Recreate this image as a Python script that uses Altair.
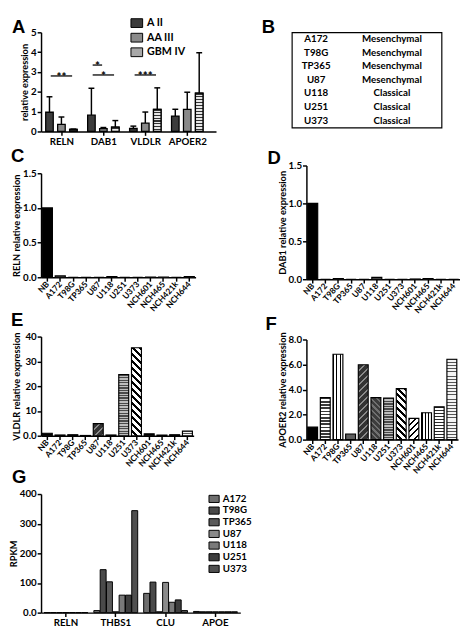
import json
import math
import altair as alt
import pandas as pd

FONT = "Lato"
LETTER_FONT = "Liberation Sans"

# ---------------- data ----------------
# Panel A
a_genes = ["RELN", "DAB1", "VLDLR", "APOER2"]
a_grades = ["A II", "AA III", "GBM IV"]
a_mean_aii = [0.97, 0.82, 0.15, 0.78]
a_mean_aaiii = [0.36, 0.14, 0.42, 1.12]
a_mean_gbmiv = [0.10, 0.22, 1.12, 1.93]
a_top_aii = [1.75, 2.18, 0.27, 1.12]
a_top_aaiii = [0.73, 0.20, 0.98, 1.98]
a_top_gbmiv = [0.12, 0.55, 2.20, 3.97]
a_sig_gene = ["RELN", "DAB1", "DAB1", "VLDLR"]
a_sig_from = ["A II", "A II", "A II", "A II"]
a_sig_to = ["GBM IV", "AA III", "GBM IV", "GBM IV"]
a_sig_level = [2.8, 3.35, 2.85, 2.85]
a_sig_text = ["**", "*", "*", "***"]

# Panel B
b_lines = ["A172", "T98G", "TP365", "U87", "U118", "U251", "U373"]
b_subtypes = ["Mesenchymal", "Mesenchymal", "Mesenchymal", "Mesenchymal",
              "Classical", "Classical", "Classical"]

# Panels C-F
cell_lines = ["NB", "A172", "T98G", "TP365", "U87", "U118", "U251", "U373",
              "NCH601", "NCH465", "NCH421k", "NCH644"]
reln_expr = [1.0, 0.02, 0.0, 0.0, 0.0, 0.01, 0.0, 0.0, 0.003, 0.003, 0.0, 0.01]
dab1_expr = [1.0, 0.0, 0.01, 0.0, 0.0, 0.025, 0.0, 0.0, 0.003, 0.01, 0.0, 0.0]
vldlr_expr = [1.0, 0.3, 0.4, 0.1, 4.9, 0.3, 24.7, 35.5, 0.8, 0.3, 0.4, 1.9]
apoer2_expr = [1.0, 3.35, 6.82, 0.45, 5.98, 3.35, 3.32, 4.08, 1.7, 2.15, 2.62, 6.42]

# Panel G
g_genes = ["RELN", "THBS1", "CLU", "APOE"]
g_lines = ["A172", "T98G", "TP365", "U87", "U118", "U251", "U373"]
g_a172 = [0.3, 7, 65, 4]
g_t98g = [0.3, 145, 103, 3]
g_tp365 = [0.2, 104, 3, 3]
g_u87 = [0.2, 3, 102, 3]
g_u118 = [0.3, 59, 35, 3]
g_u251 = [0.2, 59, 43, 3]
g_u373 = [0.3, 344, 7, 3]

# ---------------- styles ----------------
a_colors = ["#3c3c3c", "#8a8a8a", "#a8a8a8"]
palette12 = ["#000000", "#9a9a9a", "#e2e2e2", "#6a6a6a", "#4d4d4d", "#5c5c5c",
             "#8c8c8c", "#c4c4c4", "#cfcfcf", "#d9d9d9", "#a3a3a3", "#ebebeb"]
g_colors = ["#6e6e6e", "#4a4a4a", "#5a5a5a", "#8a8a8a", "#7a7a7a", "#3e3e3e", "#505050"]
# hatch styles per cell line: (kind, dark, light, period/n, duty[, direction])
line_patterns = {
    "NB": ("solid", "#000000"),
    "A172": ("h", "#3a3a3a", "#ffffff", 3.2, 0.5),
    "T98G": ("v", "#000000", "#ffffff", 3, 0.3),
    "TP365": ("solid", "#5e5e5e"),
    "U87": ("d", "#333333", "#8a8a8a", 5.0, 0.7, "/"),
    "U118": ("d", "#3c3c3c", "#707070", 4.0, 0.6, "\\"),
    "U251": ("h", "#4a4a4a", "#bdbdbd", 2.6, 0.5),
    "U373": ("d", "#000000", "#ffffff", 5.0, 0.45, "\\"),
    "NCH601": ("d", "#000000", "#ffffff", 4.5, 0.3, "/"),
    "NCH465": ("v", "#000000", "#ffffff", 3, 0.3),
    "NCH421k": ("h", "#2a2a2a", "#ffffff", 3.2, 0.5),
    "NCH644": ("h", "#555555", "#f4f4f4", 3.0, 0.3),
}
gbm_pattern = ("h", "#333333", "#e8e8e8", 3.0, 0.45)


def stripes(dark, light, n, duty, x1, y1, x2, y2):
    stops = []
    for i in range(n):
        a = i / n
        b = (i + duty) / n
        c = (i + 1) / n
        stops += [dict(offset=a, color=dark), dict(offset=b, color=dark),
                  dict(offset=b, color=light), dict(offset=c, color=light)]
    return dict(gradient="linear", x1=x1, y1=y1, x2=x2, y2=y2, stops=stops)


def make_fill(p, h_px, w_px):
    if p[0] == "solid" or h_px < 3:
        return p[1]
    kind, dark, light = p[0], p[1], p[2]
    if kind == "h":
        n = max(1, round(h_px / p[3]))
        return stripes(dark, light, n, p[4], 0, 0, 0, 1)
    if kind == "v":
        return stripes(dark, light, p[3], p[4], 0, 0, 1, 0)
    r = h_px / w_px
    a = (1 + r) / (1 + r * r)
    b = a * r
    n = max(1, round((w_px + h_px) / math.sqrt(2) / p[3]))
    if p[5] == "/":
        return stripes(dark, light, n, p[4], 0, 0, a, b)
    return stripes(dark, light, n, p[4], 1, 0, 1 - a, b)


def letter_layer(letter, dx, dy):
    return alt.Chart(pd.DataFrame({"t": [letter]})).mark_text(
        font=LETTER_FONT, fontSize=19, fontWeight="bold", align="left",
        baseline="top", color="black"
    ).encode(text="t:N", x=alt.value(dx), y=alt.value(dy))


def spacer(h):
    return alt.Chart(pd.DataFrame({"v": [0]})).mark_point(opacity=0).encode(
        x=alt.value(0), y=alt.value(0)).properties(width=1, height=h)


# ---------------- Panel A ----------------
A_W, A_H, A_MAX = 180, 102, 5
a_means = [a_mean_aii, a_mean_aaiii, a_mean_gbmiv]
a_tops = [a_top_aii, a_top_aaiii, a_top_gbmiv]
rows = []
for gi, gene in enumerate(a_genes):
    for ki, grade in enumerate(a_grades):
        rows.append(dict(gene=gene, grade=grade, gi=gi, ki=ki,
                         mean=a_means[ki][gi], top=a_tops[ki][gi]))
a_df = pd.DataFrame(rows)
sig_df = pd.DataFrame({
    "gi": [a_genes.index(g) for g in a_sig_gene],
    "k1": [a_grades.index(g) for g in a_sig_from],
    "k2": [a_grades.index(g) for g in a_sig_to],
    "level": a_sig_level,
    "txt": a_sig_text,
})

gene_expr = json.dumps(a_genes)
ax_a = alt.Axis(values=[0, 1, 2, 3], labelExpr=f"{gene_expr}[datum.value]",
                labelAngle=0)
A_DOM = [-0.37, 3.57]
sc_a = alt.Scale(domain=A_DOM, nice=False, zero=False)
y_a = dict(title="relative expression",
           scale=alt.Scale(domain=[0, A_MAX], nice=False),
           axis=alt.Axis(values=[0, 1, 2, 3, 4, 5], format="d"))

POS = "datum.gi + (datum.ki - 1) * 0.285"
BW = 0.09
err = alt.Chart(a_df).transform_calculate(pos=POS).mark_rule(
    strokeWidth=1.5, color="black").encode(
    x=alt.X("pos:Q", scale=sc_a, axis=ax_a, title=None),
    y=alt.Y("mean:Q", **y_a), y2="top:Q")
caps = alt.Chart(a_df).transform_calculate(pos=POS).transform_calculate(
    c1="datum.pos - 0.07", c2="datum.pos + 0.07").mark_rule(
    strokeWidth=1.5, color="black").encode(
    x=alt.X("c1:Q", scale=sc_a, axis=ax_a, title=None), x2="c2:Q",
    y=alt.Y("top:Q", **y_a))


def a_bar_base(df):
    return alt.Chart(df).transform_calculate(pos=POS).transform_calculate(
        b1=f"datum.pos - {BW}", b2=f"datum.pos + {BW}")


bars_a = a_bar_base(a_df).mark_bar(
    orient="vertical", stroke="black", strokeWidth=1.3).encode(
    x=alt.X("b1:Q", scale=sc_a, axis=ax_a, title=None), x2="b2:Q",
    y=alt.Y("mean:Q", **y_a), y2=alt.datum(0),
    fill=alt.Fill("grade:N", scale=alt.Scale(domain=a_grades, range=a_colors),
                  legend=alt.Legend(orient="none", legendX=92, legendY=-16,
                                    title=None,
                                    symbolType="M-1,-0.75H1V0.75H-1Z",
                                    symbolSize=144, symbolStrokeColor="black",
                                    symbolStrokeWidth=1, labelFontSize=11,
                                    rowPadding=2, labelOffset=4)))
# striped overlay for the GBM IV bars
a_px_per_unit_x = A_W / (A_DOM[1] - A_DOM[0])
gbm_layers = []
for gi, v in enumerate(a_mean_gbmiv):
    fill = make_fill(gbm_pattern, v / A_MAX * A_H, 2 * BW * a_px_per_unit_x)
    sub = a_df[(a_df.gi == gi) & (a_df.ki == 2)]
    gbm_layers.append(a_bar_base(sub).mark_bar(
        orient="vertical", stroke="black", strokeWidth=1.3, fill=fill).encode(
        x=alt.X("b1:Q", scale=sc_a, axis=ax_a, title=None), x2="b2:Q",
        y=alt.Y("mean:Q", **y_a), y2=alt.datum(0)))

sig_rule = alt.Chart(sig_df).transform_calculate(
    s1="datum.gi + (datum.k1 - 1) * 0.285 + 0.03",
    s2="datum.gi + (datum.k2 - 1) * 0.285 - 0.03").mark_rule(
    strokeWidth=1.3, color="black").encode(
    x=alt.X("s1:Q", scale=sc_a, axis=ax_a, title=None), x2="s2:Q",
    y=alt.Y("level:Q", **y_a))
sig_txt = alt.Chart(sig_df).transform_calculate(
    sm="datum.gi + (datum.k1 + datum.k2 - 2) * 0.1425").mark_text(
    font=FONT, fontWeight="bold", fontSize=12, baseline="alphabetic", dy=5,
    color="black").encode(
    x=alt.X("sm:Q", scale=sc_a, axis=ax_a, title=None),
    y=alt.Y("level:Q", **y_a), text="txt:N")

# the "B" panel letter sits in the same row, drawn with panel A
chart_a = alt.layer(err, caps, bars_a, *gbm_layers, sig_rule, sig_txt,
                    letter_layer("A", -30, -14),
                    letter_layer("B", 227, -14)).properties(width=A_W, height=A_H)

# ---------------- Panel B ----------------
b_rows = []
for ln, st in zip(b_lines, b_subtypes):
    b_rows.append(dict(line=ln, col="name", text=ln))
    b_rows.append(dict(line=ln, col="type", text=st))
b_df = pd.DataFrame(b_rows)
chart_b = alt.Chart(b_df).mark_text(font=FONT, fontWeight="bold", fontSize=10,
                                    color="black").encode(
    x=alt.X("col:N", scale=alt.Scale(type="point", domain=["name", "type"],
                                     range=[25, 103], padding=0), axis=None),
    y=alt.Y("line:N", sort=b_lines, axis=None),
    text="text:N").properties(
    width=154, height=98,
    view=alt.ViewBackground(stroke="black", strokeWidth=1.2))


# ---------------- Panels C-F ----------------
PI, PO = 0.22, 0.1


def expr_panel(values, ytitle, ymax, yticks, width, height, letter, lx, ly,
               fmt=None, expr=None, patterned=False):
    df = pd.DataFrame({"line": cell_lines, "value": values})
    yaxis = dict(values=yticks)
    if fmt:
        yaxis["format"] = fmt
    if expr:
        yaxis["labelExpr"] = expr
    xenc = alt.X("line:N", sort=cell_lines, title=None,
                 scale=alt.Scale(domain=cell_lines, paddingInner=PI, paddingOuter=PO),
                 axis=alt.Axis(labelAngle=-48, labelFontSize=8.5, labelPadding=1))
    yenc = alt.Y("value:Q", title=ytitle,
                 scale=alt.Scale(domain=[0, ymax], nice=False),
                 axis=alt.Axis(**yaxis))
    layers = []
    if patterned:
        step = width / (len(cell_lines) - PI + 2 * PO)
        bw = step * (1 - PI)
        for ln, v in zip(cell_lines, values):
            fill = make_fill(line_patterns[ln], v / ymax * height, bw)
            layers.append(alt.Chart(df).transform_filter(
                alt.datum.line == ln).mark_bar(
                stroke="black", strokeWidth=1.2, fill=fill).encode(x=xenc, y=yenc))
    else:
        layers.append(alt.Chart(df).mark_bar(stroke="black", strokeWidth=1.2).encode(
            x=xenc, y=yenc,
            fill=alt.Fill("line:N", scale=alt.Scale(domain=cell_lines, range=palette12),
                          legend=None)))
    layers.append(letter_layer(letter, lx, ly))
    return alt.layer(*layers).properties(width=width, height=height)


ZERO = "datum.value == 0 ? '0.0' : datum.label"
chart_c = expr_panel(reln_expr, "RELN relative expression", 1.5, [0, 0.5, 1, 1.5],
                     159, 107, "C", -31, -27, fmt=".1f")
chart_d = expr_panel(dab1_expr, "DAB1 relative expression", 1.5, [0, 0.5, 1, 1.5],
                     158, 117, "D", -40, -17, fmt=".1f")
chart_e = expr_panel(vldlr_expr, "VLDLR relative expression", 40, [0, 10, 20, 30, 40],
                     157, 102, "E", -31, -26, expr=ZERO, patterned=True)
chart_f = expr_panel(apoer2_expr, "APOER2 relative expression", 8, [0, 2, 4, 6, 8],
                     156, 103, "F", -42, -25, fmt=".1f", patterned=True)

# ---------------- Panel G ----------------
g_vals = [g_a172, g_t98g, g_tp365, g_u87, g_u118, g_u251, g_u373]
g_rows = []
for li, ln in enumerate(g_lines):
    for gi, gene in enumerate(g_genes):
        g_rows.append(dict(gene=gene, line=ln, value=g_vals[li][gi]))
g_df = pd.DataFrame(g_rows)
bars_g = alt.Chart(g_df).mark_bar(stroke="black", strokeWidth=1).encode(
    x=alt.X("gene:N", sort=g_genes, title=None,
            scale=alt.Scale(paddingInner=0.12, paddingOuter=0.06),
            axis=alt.Axis(labelAngle=0)),
    xOffset=alt.XOffset("line:N", sort=g_lines, scale=alt.Scale(paddingInner=0.06)),
    y=alt.Y("value:Q", title="RPKM", scale=alt.Scale(domain=[0, 400], nice=False),
            axis=alt.Axis(values=[0, 100, 200, 300, 400], labelExpr=ZERO)),
    fill=alt.Fill("line:N", scale=alt.Scale(domain=g_lines, range=g_colors),
                  legend=alt.Legend(orient="none", legendX=172, legendY=-1,
                                    title=None,
                                    symbolType="M-1,-0.7H1V0.7H-1Z",
                                    symbolSize=110, symbolStrokeColor="black",
                                    symbolStrokeWidth=1, labelFontSize=10,
                                    rowPadding=-1, labelOffset=3)))
chart_g = alt.layer(bars_g, letter_layer("G", -30, -26)).properties(
    width=205, height=122)

# ---------------- assemble ----------------
row1 = alt.hconcat(chart_a, chart_b, spacing=16).resolve_scale(fill="independent")
col_eg = alt.vconcat(chart_e, chart_g, spacing=-3).resolve_scale(fill="independent")
col1 = alt.vconcat(spacer(3), chart_c, col_eg, spacing=-2).resolve_scale(
    fill="independent")
col2 = alt.vconcat(spacer(1), chart_d, chart_f, spacing=0).resolve_scale(
    fill="independent")
row2 = alt.hconcat(col1, col2, spacing=14).resolve_scale(fill="independent")
chart = alt.vconcat(row1, row2, spacing=-6).resolve_scale(
    fill="independent").properties(padding=0).configure_axis(
    grid=False, domainColor="black", domainWidth=1.5, tickColor="black",
    tickWidth=1.5, tickSize=4, labelFont=FONT, labelFontWeight="bold",
    labelColor="black", labelFontSize=10, titleFont=FONT, titleFontWeight="bold",
    titleFontSize=9.5, titleColor="black", titlePadding=1, labelPadding=1
).configure_view(stroke=None).configure_legend(
    labelFont=FONT, labelFontWeight="bold", labelColor="black", padding=0)

chart.save("out.html", embed_options={"renderer": "svg", "actions": False})
